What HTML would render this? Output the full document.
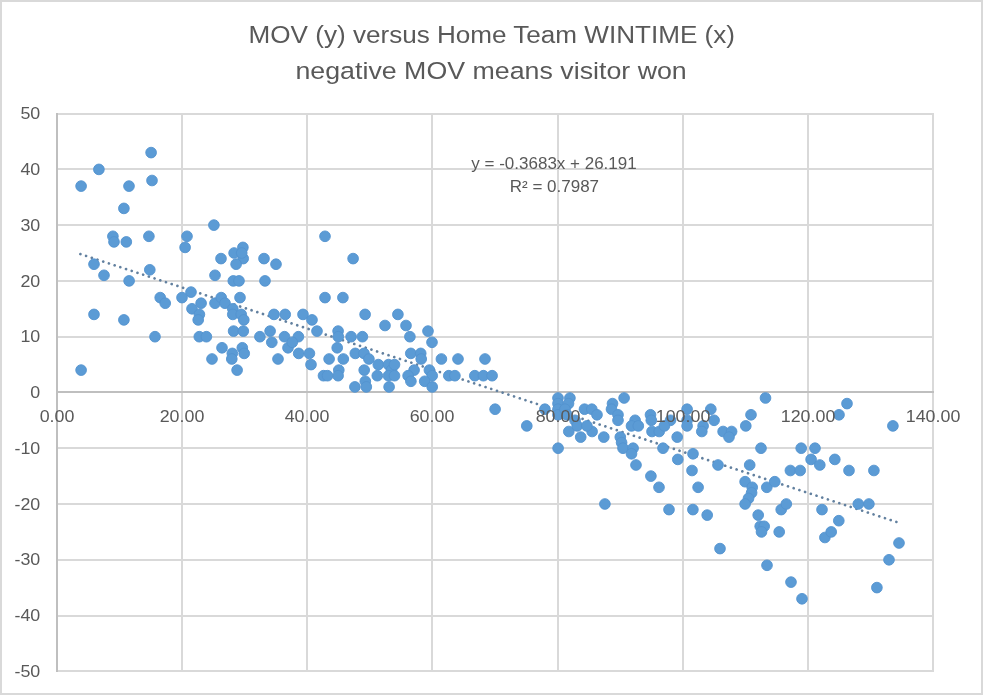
<!DOCTYPE html>
<html><head><meta charset="utf-8"><style>
html,body{margin:0;padding:0;background:#fff;}
body{width:983px;height:695px;overflow:hidden;font-family:"Liberation Sans",sans-serif;}
svg{display:block;} text{will-change:transform;}
</style></head><body>
<svg width="983" height="695" viewBox="0 0 983 695">
<rect x="1" y="1" width="981" height="693" fill="#fff" stroke="#d9d9d9" stroke-width="2"/>
<rect x="56" y="113" width="878" height="2" fill="#d9d9d9"/>
<rect x="56" y="168" width="878" height="2" fill="#d9d9d9"/>
<rect x="56" y="224" width="878" height="2" fill="#d9d9d9"/>
<rect x="56" y="280" width="878" height="2" fill="#d9d9d9"/>
<rect x="56" y="336" width="878" height="2" fill="#d9d9d9"/>
<rect x="56" y="447" width="878" height="2" fill="#d9d9d9"/>
<rect x="56" y="503" width="878" height="2" fill="#d9d9d9"/>
<rect x="56" y="559" width="878" height="2" fill="#d9d9d9"/>
<rect x="56" y="615" width="878" height="2" fill="#d9d9d9"/>
<rect x="56" y="670" width="878" height="2" fill="#d9d9d9"/>
<rect x="181" y="113" width="2" height="559" fill="#d9d9d9"/>
<rect x="306" y="113" width="2" height="559" fill="#d9d9d9"/>
<rect x="431" y="113" width="2" height="559" fill="#d9d9d9"/>
<rect x="557" y="113" width="2" height="559" fill="#d9d9d9"/>
<rect x="682" y="113" width="2" height="559" fill="#d9d9d9"/>
<rect x="807" y="113" width="2" height="559" fill="#d9d9d9"/>
<rect x="932" y="113" width="2" height="559" fill="#d9d9d9"/>
<rect x="56" y="113" width="2" height="559" fill="#bfbfbf"/>
<rect x="56" y="391" width="878" height="2" fill="#bfbfbf"/>
<line x1="80.40" y1="254.06" x2="896.88" y2="522.09" stroke="#62809f" stroke-width="2.7" stroke-linecap="round" stroke-dasharray="0.001 6.0049"/>
<g fill="#5b9bd5" stroke="#5393cf" stroke-width="0.9">
<circle cx="81.1" cy="186.1" r="5.35"/>
<circle cx="98.9" cy="169.4" r="5.35"/>
<circle cx="151.1" cy="152.6" r="5.35"/>
<circle cx="129.0" cy="186.1" r="5.35"/>
<circle cx="152.0" cy="180.5" r="5.35"/>
<circle cx="123.9" cy="208.4" r="5.35"/>
<circle cx="112.9" cy="236.3" r="5.35"/>
<circle cx="114.0" cy="241.9" r="5.35"/>
<circle cx="126.3" cy="241.9" r="5.35"/>
<circle cx="148.9" cy="236.3" r="5.35"/>
<circle cx="94.0" cy="264.2" r="5.35"/>
<circle cx="104.0" cy="275.3" r="5.35"/>
<circle cx="129.1" cy="280.9" r="5.35"/>
<circle cx="149.8" cy="269.8" r="5.35"/>
<circle cx="160.2" cy="297.6" r="5.35"/>
<circle cx="165.2" cy="303.2" r="5.35"/>
<circle cx="94.0" cy="314.4" r="5.35"/>
<circle cx="123.9" cy="319.9" r="5.35"/>
<circle cx="155.0" cy="336.7" r="5.35"/>
<circle cx="81.1" cy="370.1" r="5.35"/>
<circle cx="213.9" cy="225.1" r="5.35"/>
<circle cx="187.0" cy="236.3" r="5.35"/>
<circle cx="185.1" cy="247.4" r="5.35"/>
<circle cx="221.0" cy="258.6" r="5.35"/>
<circle cx="234.1" cy="253.0" r="5.35"/>
<circle cx="242.9" cy="247.4" r="5.35"/>
<circle cx="243.2" cy="258.6" r="5.35"/>
<circle cx="236.1" cy="264.2" r="5.35"/>
<circle cx="241.7" cy="253.0" r="5.35"/>
<circle cx="264.0" cy="258.6" r="5.35"/>
<circle cx="276.0" cy="264.2" r="5.35"/>
<circle cx="215.0" cy="275.3" r="5.35"/>
<circle cx="233.3" cy="280.9" r="5.35"/>
<circle cx="239.0" cy="280.9" r="5.35"/>
<circle cx="265.0" cy="280.9" r="5.35"/>
<circle cx="191.0" cy="292.1" r="5.35"/>
<circle cx="182.0" cy="297.6" r="5.35"/>
<circle cx="240.0" cy="297.6" r="5.35"/>
<circle cx="201.1" cy="303.2" r="5.35"/>
<circle cx="192.0" cy="308.8" r="5.35"/>
<circle cx="199.4" cy="314.4" r="5.35"/>
<circle cx="198.2" cy="319.9" r="5.35"/>
<circle cx="215.0" cy="303.2" r="5.35"/>
<circle cx="221.2" cy="297.6" r="5.35"/>
<circle cx="225.0" cy="303.2" r="5.35"/>
<circle cx="232.8" cy="308.8" r="5.35"/>
<circle cx="232.8" cy="314.4" r="5.35"/>
<circle cx="241.2" cy="314.4" r="5.35"/>
<circle cx="243.8" cy="319.9" r="5.35"/>
<circle cx="233.6" cy="331.1" r="5.35"/>
<circle cx="243.3" cy="331.1" r="5.35"/>
<circle cx="199.3" cy="336.7" r="5.35"/>
<circle cx="206.4" cy="336.7" r="5.35"/>
<circle cx="259.9" cy="336.7" r="5.35"/>
<circle cx="270.1" cy="331.1" r="5.35"/>
<circle cx="271.8" cy="342.3" r="5.35"/>
<circle cx="284.5" cy="336.7" r="5.35"/>
<circle cx="274.0" cy="314.4" r="5.35"/>
<circle cx="285.2" cy="314.4" r="5.35"/>
<circle cx="222.0" cy="347.8" r="5.35"/>
<circle cx="232.3" cy="353.4" r="5.35"/>
<circle cx="242.3" cy="347.8" r="5.35"/>
<circle cx="244.2" cy="353.4" r="5.35"/>
<circle cx="231.8" cy="359.0" r="5.35"/>
<circle cx="212.0" cy="359.0" r="5.35"/>
<circle cx="237.1" cy="370.1" r="5.35"/>
<circle cx="278.0" cy="359.0" r="5.35"/>
<circle cx="288.0" cy="347.8" r="5.35"/>
<circle cx="325.0" cy="236.3" r="5.35"/>
<circle cx="353.1" cy="258.6" r="5.35"/>
<circle cx="325.0" cy="297.6" r="5.35"/>
<circle cx="342.9" cy="297.6" r="5.35"/>
<circle cx="303.0" cy="314.4" r="5.35"/>
<circle cx="312.0" cy="319.9" r="5.35"/>
<circle cx="365.1" cy="314.4" r="5.35"/>
<circle cx="317.0" cy="331.1" r="5.35"/>
<circle cx="298.4" cy="336.7" r="5.35"/>
<circle cx="298.7" cy="353.4" r="5.35"/>
<circle cx="309.4" cy="353.4" r="5.35"/>
<circle cx="311.0" cy="364.6" r="5.35"/>
<circle cx="323.5" cy="375.7" r="5.35"/>
<circle cx="327.5" cy="375.7" r="5.35"/>
<circle cx="338.1" cy="331.1" r="5.35"/>
<circle cx="351.1" cy="336.7" r="5.35"/>
<circle cx="362.4" cy="336.7" r="5.35"/>
<circle cx="337.2" cy="347.8" r="5.35"/>
<circle cx="329.1" cy="359.0" r="5.35"/>
<circle cx="343.3" cy="359.0" r="5.35"/>
<circle cx="338.8" cy="370.1" r="5.35"/>
<circle cx="338.1" cy="375.7" r="5.35"/>
<circle cx="355.3" cy="353.4" r="5.35"/>
<circle cx="364.0" cy="353.4" r="5.35"/>
<circle cx="368.9" cy="359.0" r="5.35"/>
<circle cx="378.3" cy="364.6" r="5.35"/>
<circle cx="364.2" cy="370.1" r="5.35"/>
<circle cx="365.3" cy="381.3" r="5.35"/>
<circle cx="354.9" cy="386.9" r="5.35"/>
<circle cx="366.3" cy="386.9" r="5.35"/>
<circle cx="377.3" cy="375.7" r="5.35"/>
<circle cx="389.1" cy="386.9" r="5.35"/>
<circle cx="338.3" cy="336.7" r="5.35"/>
<circle cx="292.3" cy="342.3" r="5.35"/>
<circle cx="388.5" cy="364.6" r="5.35"/>
<circle cx="391.5" cy="370.1" r="5.35"/>
<circle cx="394.5" cy="364.6" r="5.35"/>
<circle cx="388.5" cy="375.7" r="5.35"/>
<circle cx="394.5" cy="375.7" r="5.35"/>
<circle cx="397.9" cy="314.4" r="5.35"/>
<circle cx="385.0" cy="325.5" r="5.35"/>
<circle cx="406.0" cy="325.5" r="5.35"/>
<circle cx="409.9" cy="336.7" r="5.35"/>
<circle cx="428.0" cy="331.1" r="5.35"/>
<circle cx="432.0" cy="342.3" r="5.35"/>
<circle cx="410.8" cy="353.4" r="5.35"/>
<circle cx="420.7" cy="353.4" r="5.35"/>
<circle cx="421.2" cy="359.0" r="5.35"/>
<circle cx="441.4" cy="359.0" r="5.35"/>
<circle cx="414.1" cy="370.1" r="5.35"/>
<circle cx="408.1" cy="375.7" r="5.35"/>
<circle cx="410.9" cy="381.3" r="5.35"/>
<circle cx="429.4" cy="370.1" r="5.35"/>
<circle cx="432.2" cy="375.7" r="5.35"/>
<circle cx="424.7" cy="381.3" r="5.35"/>
<circle cx="432.2" cy="386.9" r="5.35"/>
<circle cx="458.0" cy="359.0" r="5.35"/>
<circle cx="485.0" cy="359.0" r="5.35"/>
<circle cx="448.8" cy="375.7" r="5.35"/>
<circle cx="454.9" cy="375.7" r="5.35"/>
<circle cx="474.8" cy="375.7" r="5.35"/>
<circle cx="483.4" cy="375.7" r="5.35"/>
<circle cx="492.1" cy="375.7" r="5.35"/>
<circle cx="495.1" cy="409.2" r="5.35"/>
<circle cx="526.8" cy="425.9" r="5.35"/>
<circle cx="544.9" cy="409.2" r="5.35"/>
<circle cx="558.0" cy="398.0" r="5.35"/>
<circle cx="569.9" cy="398.0" r="5.35"/>
<circle cx="558.0" cy="403.6" r="5.35"/>
<circle cx="558.0" cy="409.2" r="5.35"/>
<circle cx="558.0" cy="414.8" r="5.35"/>
<circle cx="568.5" cy="403.6" r="5.35"/>
<circle cx="565.0" cy="409.2" r="5.35"/>
<circle cx="567.0" cy="414.8" r="5.35"/>
<circle cx="575.0" cy="420.3" r="5.35"/>
<circle cx="584.5" cy="409.2" r="5.35"/>
<circle cx="591.8" cy="409.2" r="5.35"/>
<circle cx="597.0" cy="414.8" r="5.35"/>
<circle cx="568.8" cy="431.5" r="5.35"/>
<circle cx="580.7" cy="437.1" r="5.35"/>
<circle cx="592.1" cy="431.5" r="5.35"/>
<circle cx="603.8" cy="437.1" r="5.35"/>
<circle cx="558.1" cy="448.2" r="5.35"/>
<circle cx="577.2" cy="425.9" r="5.35"/>
<circle cx="586.9" cy="425.9" r="5.35"/>
<circle cx="612.5" cy="403.6" r="5.35"/>
<circle cx="624.1" cy="398.0" r="5.35"/>
<circle cx="611.5" cy="409.2" r="5.35"/>
<circle cx="618.0" cy="414.8" r="5.35"/>
<circle cx="618.0" cy="420.3" r="5.35"/>
<circle cx="635.1" cy="420.3" r="5.35"/>
<circle cx="631.5" cy="425.9" r="5.35"/>
<circle cx="638.3" cy="425.9" r="5.35"/>
<circle cx="650.5" cy="414.8" r="5.35"/>
<circle cx="651.3" cy="420.3" r="5.35"/>
<circle cx="652.0" cy="431.5" r="5.35"/>
<circle cx="659.2" cy="431.5" r="5.35"/>
<circle cx="620.3" cy="437.1" r="5.35"/>
<circle cx="621.6" cy="442.6" r="5.35"/>
<circle cx="623.0" cy="448.2" r="5.35"/>
<circle cx="633.1" cy="448.2" r="5.35"/>
<circle cx="631.5" cy="453.8" r="5.35"/>
<circle cx="636.0" cy="465.0" r="5.35"/>
<circle cx="650.9" cy="476.1" r="5.35"/>
<circle cx="659.0" cy="487.3" r="5.35"/>
<circle cx="663.0" cy="448.2" r="5.35"/>
<circle cx="677.2" cy="437.1" r="5.35"/>
<circle cx="677.8" cy="459.4" r="5.35"/>
<circle cx="693.0" cy="453.8" r="5.35"/>
<circle cx="692.0" cy="470.5" r="5.35"/>
<circle cx="698.1" cy="487.3" r="5.35"/>
<circle cx="687.1" cy="409.2" r="5.35"/>
<circle cx="687.1" cy="420.3" r="5.35"/>
<circle cx="687.1" cy="425.9" r="5.35"/>
<circle cx="670.5" cy="420.3" r="5.35"/>
<circle cx="664.4" cy="425.9" r="5.35"/>
<circle cx="710.8" cy="409.2" r="5.35"/>
<circle cx="714.1" cy="420.3" r="5.35"/>
<circle cx="703.1" cy="425.9" r="5.35"/>
<circle cx="701.8" cy="431.5" r="5.35"/>
<circle cx="723.1" cy="431.5" r="5.35"/>
<circle cx="731.6" cy="431.5" r="5.35"/>
<circle cx="729.0" cy="437.1" r="5.35"/>
<circle cx="751.0" cy="414.8" r="5.35"/>
<circle cx="745.8" cy="425.9" r="5.35"/>
<circle cx="765.5" cy="398.0" r="5.35"/>
<circle cx="761.0" cy="448.2" r="5.35"/>
<circle cx="718.0" cy="465.0" r="5.35"/>
<circle cx="749.7" cy="465.0" r="5.35"/>
<circle cx="604.9" cy="504.0" r="5.35"/>
<circle cx="669.0" cy="509.6" r="5.35"/>
<circle cx="692.9" cy="509.6" r="5.35"/>
<circle cx="707.2" cy="515.1" r="5.35"/>
<circle cx="745.1" cy="481.7" r="5.35"/>
<circle cx="752.2" cy="487.3" r="5.35"/>
<circle cx="751.6" cy="492.8" r="5.35"/>
<circle cx="748.5" cy="498.4" r="5.35"/>
<circle cx="745.1" cy="504.0" r="5.35"/>
<circle cx="766.8" cy="487.3" r="5.35"/>
<circle cx="774.8" cy="481.7" r="5.35"/>
<circle cx="758.2" cy="515.1" r="5.35"/>
<circle cx="760.2" cy="526.3" r="5.35"/>
<circle cx="764.2" cy="526.3" r="5.35"/>
<circle cx="761.5" cy="531.9" r="5.35"/>
<circle cx="779.2" cy="531.9" r="5.35"/>
<circle cx="781.2" cy="509.6" r="5.35"/>
<circle cx="786.3" cy="504.0" r="5.35"/>
<circle cx="720.0" cy="548.6" r="5.35"/>
<circle cx="822.0" cy="509.6" r="5.35"/>
<circle cx="824.9" cy="537.5" r="5.35"/>
<circle cx="790.4" cy="470.5" r="5.35"/>
<circle cx="800.2" cy="470.5" r="5.35"/>
<circle cx="801.2" cy="448.2" r="5.35"/>
<circle cx="815.0" cy="448.2" r="5.35"/>
<circle cx="811.1" cy="459.4" r="5.35"/>
<circle cx="819.8" cy="465.0" r="5.35"/>
<circle cx="834.8" cy="459.4" r="5.35"/>
<circle cx="849.0" cy="470.5" r="5.35"/>
<circle cx="873.9" cy="470.5" r="5.35"/>
<circle cx="847.0" cy="403.6" r="5.35"/>
<circle cx="839.0" cy="414.8" r="5.35"/>
<circle cx="892.9" cy="425.9" r="5.35"/>
<circle cx="838.8" cy="520.7" r="5.35"/>
<circle cx="831.2" cy="531.9" r="5.35"/>
<circle cx="858.3" cy="504.0" r="5.35"/>
<circle cx="868.9" cy="504.0" r="5.35"/>
<circle cx="899.0" cy="543.0" r="5.35"/>
<circle cx="889.0" cy="559.8" r="5.35"/>
<circle cx="876.9" cy="587.6" r="5.35"/>
<circle cx="767.0" cy="565.3" r="5.35"/>
<circle cx="791.0" cy="582.1" r="5.35"/>
<circle cx="802.0" cy="598.8" r="5.35"/>
</g>
<g font-family="Liberation Sans" font-size="16.7" fill="#595959">
<text transform="translate(40.3 119.30) scale(1.07 1)" text-anchor="end">50</text>
<text transform="translate(40.3 175.07) scale(1.07 1)" text-anchor="end">40</text>
<text transform="translate(40.3 230.84) scale(1.07 1)" text-anchor="end">30</text>
<text transform="translate(40.3 286.61) scale(1.07 1)" text-anchor="end">20</text>
<text transform="translate(40.3 342.38) scale(1.07 1)" text-anchor="end">10</text>
<text transform="translate(40.3 398.15) scale(1.07 1)" text-anchor="end">0</text>
<text transform="translate(40.3 453.92) scale(1.07 1)" text-anchor="end">-10</text>
<text transform="translate(40.3 509.69) scale(1.07 1)" text-anchor="end">-20</text>
<text transform="translate(40.3 565.46) scale(1.07 1)" text-anchor="end">-30</text>
<text transform="translate(40.3 621.23) scale(1.07 1)" text-anchor="end">-40</text>
<text transform="translate(40.3 677.00) scale(1.07 1)" text-anchor="end">-50</text>
<text transform="translate(57 422) scale(1.07 1)" text-anchor="middle">0.00</text>
<text transform="translate(182 422) scale(1.07 1)" text-anchor="middle">20.00</text>
<text transform="translate(307 422) scale(1.07 1)" text-anchor="middle">40.00</text>
<text transform="translate(432 422) scale(1.07 1)" text-anchor="middle">60.00</text>
<text transform="translate(558 422) scale(1.07 1)" text-anchor="middle">80.00</text>
<text transform="translate(683 422) scale(1.07 1)" text-anchor="middle">100.00</text>
<text transform="translate(808 422) scale(1.07 1)" text-anchor="middle">120.00</text>
<text transform="translate(933 422) scale(1.07 1)" text-anchor="middle">140.00</text>
</g>
<g font-family="Liberation Sans" font-size="16.2" fill="#595959" text-anchor="middle"><text transform="translate(554 168.8) scale(1.05 1)">y = -0.3683x + 26.191</text><text transform="translate(554.4 191.8) scale(1.05 1)">R² = 0.7987</text></g>
<g font-family="Liberation Sans" font-size="24.5" fill="#595959" text-anchor="middle"><text transform="translate(491.8 43.4) scale(1.065 1)">MOV (y) versus Home Team WINTIME (x)</text><text transform="translate(491.1 78.8) scale(1.093 1)">negative MOV means visitor won</text></g>
</svg>
</body></html>
